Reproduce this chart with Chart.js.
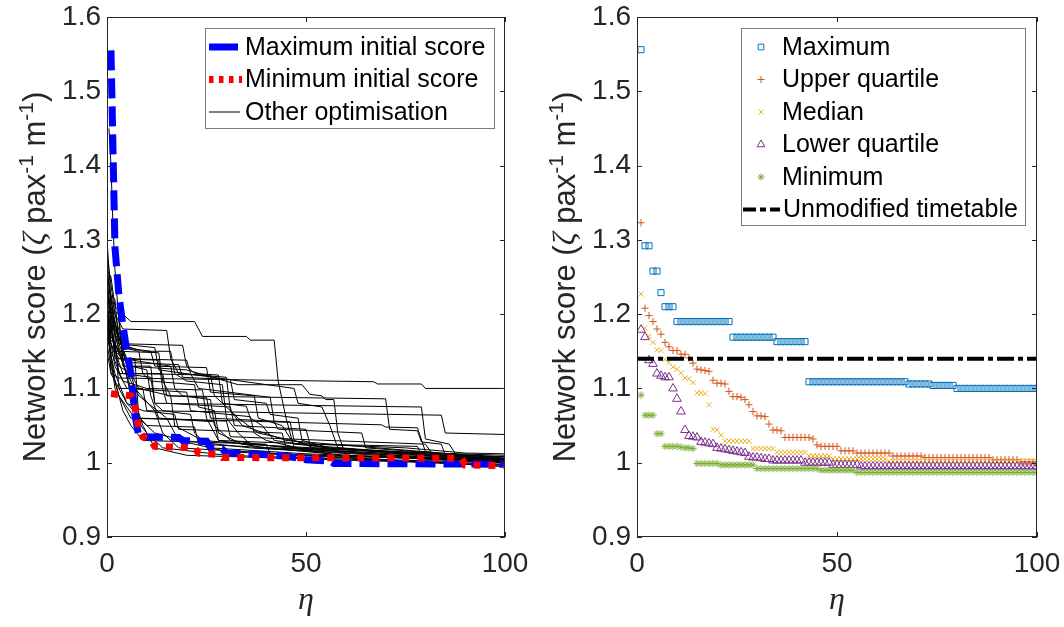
<!DOCTYPE html>
<html>
<head>
<meta charset="utf-8">
<script src="https://cdn.jsdelivr.net/npm/chart.js@4.4.1/dist/chart.umd.min.js"></script>
<style>
  html, body { margin: 0; padding: 0; background: #fff; }
  #wrap { position: relative; width: 1064px; height: 627px; }
  canvas { position: absolute; top: 0; }
  #left { left: 0; }
  #right { left: 532px; }
</style>
</head>
<body>
<div id="wrap">
  <canvas id="left" width="532" height="627"></canvas>
  <canvas id="right" width="532" height="627"></canvas>
</div>
<script>
// axis ticks (both panels)
var yTicks = [0.9, 1, 1.1, 1.2, 1.3, 1.4, 1.5, 1.6];
var xTicks = [0, 50, 100];
// y label pieces: text, kind (n = normal, i = italic greek, s = superscript)
var yTitleParts = [['Network score (', 'n'], ['ζ', 'i'], [' pax', 'n'], ['-1', 's'], [' m', 'n'], ['-1', 's'], [')', 'n']];

// left panel: network score vs eta, [eta, score] break points of each run
var maxInitial = [[1,1.555],[2,1.29],[3,1.225],[4,1.185],[5,1.15],[6,1.12],[7,1.065],[8,1.035],[18,1.034],[19,1.03],[25,1.029],[26,1.02],[29,1.018],[30,1.013],[40,1.011],[46,1.008],[50,1.004],[56,1.002],[57,0.999],[100,0.998]];
var minInitial = [[1,1.093],[6,1.09],[7,1.075],[8,1.045],[9,1.035],[11,1.03],[12,1.022],[22,1.02],[23,1.013],[28,1.011],[29,1.007],[89,1.006],[90,0.997],[100,0.996]];
var otherRuns = [
  [[0,1.26],[1,1.25],[2,1.21],[6,1.19],[22,1.19],[24,1.17],[35,1.17],[36,1.165],[42,1.165],[43,1.11],[45,1.06],[47,1.02],[60,1.008],[100,1.005]],
  [[0,1.22],[1,1.12],[3,1.114],[67,1.109],[68,1.106],[79,1.106],[80,1.1],[100,1.1]],
  [[0,1.2],[1,1.2],[2,1.15],[4,1.15],[5,1.13],[20,1.125],[33,1.105],[49,1.105],[51,1.092],[54,1.09],[55,1.085],[57,1.085],[58,1.04],[60,1.01],[100,1.0]],
  [[0,1.18],[2,1.17],[3,1.1],[9,1.1],[10,1.07],[84,1.064],[85,1.04],[100,1.038]],
  [[0,1.21],[3,1.2],[4,1.13],[11,1.13],[12,1.08],[79,1.075],[80,1.032],[86,1.025],[88,1.008],[100,1.005]],
  [[0,1.17],[2,1.16],[3,1.12],[14,1.12],[15,1.09],[70,1.086],[71,1.045],[78,1.043],[79,1.028],[84,1.025],[85,1.01],[100,1.003]],
  [[0,1.19],[1,1.19],[2,1.14],[7,1.14],[8,1.06],[69,1.051],[70,1.048],[78,1.047],[80,1.015],[100,1.0]],
  [[0,1.23],[2,1.22],[3,1.16],[12,1.155],[13,1.125],[47,1.1],[48,1.08],[54,1.075],[56,1.05],[58,1.02],[100,1.0]],
  [[0,1.25],[1,1.2],[3,1.15],[6,1.1],[9,1.05],[12,1.02],[20,1.01],[100,0.997]],
  [[0,1.2],[2,1.16],[5,1.12],[8,1.09],[15,1.06],[18,1.03],[30,1.015],[100,0.995]],
  [[0,1.18],[1,1.15],[4,1.11],[10,1.1],[24,1.098],[25,1.06],[28,1.03],[40,1.02],[60,1.01],[100,1.0]],
  [[0,1.23],[2,1.17],[4,1.14],[16,1.13],[17,1.1],[19,1.09],[26,1.085],[27,1.05],[31,1.03],[45,1.02],[100,1.003]],
  [[0,1.16],[1,1.13],[3,1.09],[7,1.06],[10,1.04],[14,1.02],[30,1.01],[100,0.998]],
  [[0,1.21],[2,1.15],[4,1.12],[11,1.115],[12,1.08],[14,1.07],[21,1.065],[22,1.04],[26,1.02],[50,1.012],[100,1.002]],
  [[0,1.24],[1,1.19],[3,1.16],[9,1.15],[16,1.15],[17,1.12],[20,1.11],[29,1.105],[30,1.06],[33,1.04],[37,1.02],[100,1.002]],
  [[0,1.19],[2,1.13],[5,1.1],[20,1.095],[21,1.07],[36,1.062],[37,1.04],[40,1.03],[48,1.02],[80,1.012],[100,1.005]],
  [[0,1.2],[1,1.16],[3,1.13],[6,1.12],[26,1.118],[27,1.09],[29,1.08],[35,1.076],[36,1.06],[39,1.05],[42,1.03],[55,1.02],[100,1.008]],
  [[0,1.17],[2,1.12],[5,1.08],[9,1.07],[17,1.065],[18,1.045],[44,1.04],[45,1.02],[100,1.0]],
  [[0,1.22],[1,1.17],[4,1.14],[20,1.138],[21,1.12],[23,1.1],[41,1.088],[42,1.055],[43,1.045],[64,1.04],[65,1.02],[100,1.006]],
  [[0,1.26],[1,1.22],[3,1.16],[6,1.12],[8,1.1],[16,1.09],[17,1.05],[24,1.03],[60,1.015],[85,1.01],[100,1.008]],
  [[0,1.3],[1,1.22],[2,1.18],[5,1.14],[7,1.1],[12,1.07],[14,1.04],[18,1.02],[100,0.995]],
  [[0,1.15],[1,1.12],[3,1.1],[5,1.08],[10,1.05],[22,1.048],[23,1.025],[60,1.015],[62,1.005],[100,1.0]],
  [[0,1.19],[1,1.17],[3,1.15],[13,1.148],[14,1.11],[16,1.09],[25,1.088],[26,1.06],[46,1.055],[47,1.03],[52,1.02],[100,1.005]],
  [[0,1.23],[2,1.18],[4,1.155],[8,1.15],[9,1.12],[11,1.11],[22,1.105],[23,1.075],[27,1.07],[28,1.04],[34,1.025],[70,1.015],[100,1.01]],
  [[0,1.2],[1,1.14],[2,1.1],[4,1.08],[6,1.06],[30,1.056],[31,1.035],[80,1.025],[82,1.01],[100,1.005]],
  [[0,1.27],[1,1.21],[3,1.17],[5,1.135],[18,1.132],[19,1.115],[31,1.112],[32,1.085],[40,1.08],[41,1.065],[48,1.06],[49,1.03],[56,1.02],[100,1.004]],
  [[0,1.18],[2,1.11],[4,1.07],[6,1.05],[9,1.03],[40,1.025],[41,1.012],[100,1.002]],
  [[0,1.24],[1,1.18],[2,1.15],[6,1.13],[10,1.125],[11,1.09],[13,1.06],[27,1.055],[28,1.03],[75,1.02],[90,1.013],[100,1.012]],
  [[0.5,1.45],[1,1.4],[1.5,1.32],[2,1.26],[3,1.19],[4,1.14],[6,1.09],[8,1.06],[12,1.04],[19,1.03],[36,1.02],[100,1.0]],
  [[0,1.21],[1,1.16],[3,1.14],[13,1.138],[14,1.1],[15,1.08],[31,1.075],[32,1.05],[50,1.045],[51,1.025],[78,1.022],[79,1.01],[100,1.005]],
  [[0,1.25],[2,1.2],[4,1.18],[15,1.178],[16,1.14],[18,1.12],[30,1.115],[31,1.07],[34,1.05],[45,1.03],[100,1.006]],
  [[0,1.22],[3,1.17],[5,1.16],[19,1.158],[20,1.13],[22,1.12],[28,1.118],[29,1.08],[33,1.06],[38,1.04],[55,1.02],[100,1.004]],
  [[0,1.28],[1,1.24],[2,1.2],[4,1.155],[11,1.15],[12,1.13],[25,1.128],[26,1.095],[37,1.09],[38,1.06],[44,1.05],[47,1.025],[100,1.003]]
];

// right panel: statistics over runs at each eta
var eta = [1,2,3,4,5,6,7,8,9,10,11,12,13,14,15,16,17,18,19,20,21,22,23,24,25,26,27,28,29,30,31,32,33,34,35,36,37,38,39,40,41,42,43,44,45,46,47,48,49,50,
  51,52,53,54,55,56,57,58,59,60,61,62,63,64,65,66,67,68,69,70,71,72,73,74,75,76,77,78,79,80,81,82,83,84,85,86,87,88,89,90,91,92,93,94,95,96,97,98,99,100];
var maxScore = [1.556,1.292,1.292,1.258,1.258,1.229,1.21,1.21,1.21,1.19,1.19,1.19,1.19,1.19,1.19,1.19,1.19,1.19,1.19,1.19,1.19,1.19,1.19,1.169,1.169,
  1.169,1.169,1.169,1.169,1.169,1.169,1.169,1.169,1.169,1.163,1.163,1.163,1.163,1.163,1.163,1.163,1.163,1.109,1.109,1.109,1.109,1.109,1.109,1.109,1.109,
  1.109,1.109,1.109,1.109,1.109,1.109,1.109,1.109,1.109,1.109,1.109,1.109,1.109,1.109,1.109,1.109,1.109,1.106,1.106,1.106,1.106,1.106,1.106,1.104,1.104,
  1.104,1.104,1.104,1.104,1.1,1.1,1.1,1.1,1.1,1.1,1.1,1.1,1.1,1.1,1.1,1.1,1.1,1.1,1.1,1.1,1.1,1.1,1.1,1.1,1.1];
var upperQuartile = [1.323,1.208,1.198,1.19,1.18,1.173,1.162,1.156,1.151,1.151,1.146,1.146,1.141,1.134,1.126,1.125,1.124,1.123,1.111,1.107,
  1.107,1.106,1.096,1.089,1.089,1.088,1.085,1.078,1.069,1.063,1.063,1.062,1.052,1.044,1.044,1.043,1.034,1.034,1.034,1.034,
  1.034,1.034,1.034,1.032,1.024,1.022,1.022,1.022,1.022,1.022,1.016,1.016,1.016,1.016,1.013,1.013,1.013,1.013,1.013,1.013,
  1.013,1.013,1.013,1.009,1.009,1.009,1.009,1.009,1.009,1.009,1.009,1.007,1.007,1.007,1.007,1.007,1.007,1.007,1.007,1.007,
  1.007,1.007,1.007,1.007,1.007,1.007,1.007,1.007,1.004,1.004,1.004,1.004,1.004,1.004,1.004,1.001,1.001,1.001,1.001,1.001];
var median = [1.227,1.181,1.17,1.162,1.152,1.151,1.139,1.135,1.129,1.126,1.121,1.114,1.113,1.108,1.094,1.094,1.093,1.078,1.045,1.044,
  1.037,1.029,1.029,1.029,1.029,1.029,1.029,1.029,1.019,1.019,1.019,1.019,1.019,1.019,1.014,1.014,1.014,1.014,1.014,1.014,
  1.014,1.014,1.009,1.009,1.009,1.009,1.009,1.009,1.005,1.005,1.005,1.005,1.005,1.005,1.005,1.005,1.005,1.005,1.005,1.005,
  1.005,1.005,1.002,1.002,1.002,1.002,1.002,1.002,1.002,1.002,1.002,1.002,1.002,1.002,1.002,1.002,1.002,1.002,1.002,1.002,
  1.002,1.002,1.002,1.002,1.002,1.002,1.002,1.002,1.002,1.002,1.002,1.002,1.002,1.002,1.002,1.002,1.002,1.002,1.002,1.002];
var lowerQuartile = [1.179,1.169,1.138,1.133,1.12,1.117,1.115,1.115,1.1,1.086,1.069,1.044,1.036,1.035,1.034,1.028,1.027,1.026,1.025,1.02,
  1.019,1.018,1.017,1.016,1.015,1.014,1.013,1.008,1.007,1.007,1.006,1.005,1.005,1.003,1.003,1.003,1.003,1.003,1.003,1.003,
  1.003,1.0,1.0,1.0,1.0,1.0,1.0,1.0,0.997,0.997,0.997,0.997,0.997,0.997,0.997,0.995,0.995,0.995,0.995,0.995,
  0.995,0.995,0.995,0.995,0.995,0.995,0.995,0.995,0.995,0.995,0.995,0.995,0.995,0.995,0.995,0.995,0.995,0.995,0.995,0.995,
  0.995,0.995,0.995,0.995,0.995,0.995,0.995,0.995,0.995,0.995,0.995,0.995,0.995,0.995,0.995,0.995,0.995,0.995,0.995,0.995];
var minScore = [1.091,1.064,1.064,1.064,1.039,1.039,1.022,1.022,1.022,1.022,1.021,1.02,1.02,1.019,0.999,0.999,0.999,0.999,0.999,0.999,
  0.997,0.997,0.997,0.997,0.997,0.997,0.997,0.997,0.997,0.992,0.992,0.992,0.992,0.992,0.992,0.992,0.992,0.992,0.992,0.992,
  0.992,0.992,0.992,0.992,0.992,0.99,0.99,0.99,0.99,0.99,0.99,0.99,0.99,0.99,0.987,0.987,0.987,0.987,0.987,0.987,
  0.987,0.987,0.987,0.987,0.987,0.987,0.987,0.987,0.987,0.987,0.987,0.987,0.987,0.987,0.987,0.987,0.987,0.987,0.987,0.987,
  0.987,0.987,0.987,0.987,0.987,0.987,0.987,0.987,0.987,0.987,0.987,0.987,0.987,0.987,0.987,0.987,0.987,0.987,0.987,0.987];
var unmodifiedScore = 1.14;

var FAMILY = "'Liberation Sans', Arial, Helvetica, sans-serif";
var SERIF = "'Liberation Serif', 'DejaVu Serif', serif";
var AXIS = '#262626';

function toXY(pairs) {
  return pairs.map(function (p) { return { x: p[0], y: p[1] }; });
}

function scalesFor(yWidth) {
  return {
    x: {
      type: 'linear', min: 0, max: 100,
      afterBuildTicks: function (s) { s.ticks = xTicks.map(function (v) { return { value: v }; }); },
      // fixed height, and no extra room reserved for the end labels
      afterFit: function (s) { s.height = 90; s.paddingLeft = 0; s.paddingRight = 0; },
      grid: { display: false, drawTicks: false },
      border: { display: false },
      ticks: { color: AXIS, font: { family: FAMILY, size: 28 }, padding: 10, maxRotation: 0, autoSkip: false },
      title: { display: true, text: 'η', color: AXIS,
               font: { family: SERIF, style: 'italic', size: 32 },
               padding: { top: 0, bottom: 7 } }
    },
    y: {
      type: 'linear', min: 0.9, max: 1.6,
      afterBuildTicks: function (s) { s.ticks = yTicks.map(function (v) { return { value: v }; }); },
      afterFit: function (s) { s.width = yWidth; s.paddingTop = 0; s.paddingBottom = 0; },
      grid: { display: false, drawTicks: false },
      border: { display: false },
      ticks: { color: AXIS, font: { family: FAMILY, size: 28 }, padding: 6,
               callback: function (v) { return String(Math.round(v * 10) / 10); } },
      title: { display: false }
    }
  };
}

// y label with italic zeta and raised -1, rotated
function drawYTitle(chart) {
  var a = chart.chartArea, c = chart.ctx;
  var fonts = { n: '31px ' + FAMILY, i: 'italic 32px ' + SERIF, s: '21px ' + FAMILY };
  var total = 0;
  yTitleParts.forEach(function (p) { c.font = fonts[p[1]]; total += c.measureText(p[0]).width; });
  c.save();
  c.translate(a.left - 62, (a.top + a.bottom) / 2);
  c.rotate(-Math.PI / 2);
  c.fillStyle = AXIS;
  c.textBaseline = 'alphabetic';
  var x = -total / 2;
  yTitleParts.forEach(function (p) {
    c.font = fonts[p[1]];
    c.fillText(p[0], x, p[1] === 's' ? -12 : 0);
    x += c.measureText(p[0]).width;
  });
  c.restore();
}

// box round the axes with inward ticks, MATLAB style
var framePlugin = {
  id: 'frame',
  afterDatasetsDraw: function (chart) {
    var a = chart.chartArea, c = chart.ctx, sx = chart.scales.x, sy = chart.scales.y;
    c.save();
    c.strokeStyle = AXIS;
    c.lineWidth = 1;
    c.strokeRect(Math.round(a.left) + 0.5, Math.round(a.top) + 0.5, Math.round(a.right - a.left) - 1, Math.round(a.bottom - a.top) - 1);
    c.beginPath();
    xTicks.forEach(function (v) {
      var px = Math.round(sx.getPixelForValue(v)) + 0.5;
      c.moveTo(px, a.bottom); c.lineTo(px, a.bottom - 5);
      c.moveTo(px, a.top); c.lineTo(px, a.top + 5);
    });
    yTicks.forEach(function (v) {
      var py = Math.round(sy.getPixelForValue(v)) + 0.5;
      c.moveTo(a.left, py); c.lineTo(a.left + 5, py);
      c.moveTo(a.right, py); c.lineTo(a.right - 5, py);
    });
    c.stroke();
    c.restore();
    drawYTitle(chart);
  }
};

// legend drawn inside the axes, box at (bx,by) size bw x bh
function legendPlugin(id, bx, by, bw, bh, rowY, rowStep, items) {
  return {
    id: id,
    afterDraw: function (chart) {
      var c = chart.ctx;
      c.save();
      c.fillStyle = '#fff';
      c.fillRect(bx, by, bw, bh);
      c.strokeStyle = '#7a7a7a';
      c.lineWidth = 1;
      c.strokeRect(bx + 0.5, by + 0.5, bw, bh);
      c.font = '25px ' + FAMILY;
      c.textBaseline = 'middle';
      items.forEach(function (it, i) {
        var y = rowY + i * rowStep;
        c.save();
        if (it.marker) {
          c.strokeStyle = it.color;
          c.fillStyle = 'rgba(0,0,0,0)';
          Chart.helpers.drawPoint(c, { pointStyle: it.marker, radius: it.radius, borderWidth: 1, rotation: 0 }, it.x0, y);
        } else {
          c.strokeStyle = it.color;
          c.lineWidth = it.width;
          c.lineCap = 'butt';
          c.setLineDash(it.dash || []);
          c.beginPath();
          c.moveTo(it.x0, y);
          c.lineTo(it.x1, y);
          c.stroke();
        }
        c.restore();
        c.fillStyle = '#000';
        c.fillText(it.label, it.tx, y + 1);
      });
      c.restore();
    }
  };
}

var common = {
  responsive: false,
  animation: false,
  devicePixelRatio: 1,
  events: [],
  elements: { line: { tension: 0, fill: false }, point: { radius: 0 } },
  plugins: { legend: { display: false }, tooltip: { enabled: false } }
};

// ---- left panel
var leftSets = [
  { label: 'Minimum initial score', data: toXY(minInitial), borderColor: '#ff0000', borderWidth: 7,
    borderDash: [7, 8], borderCapStyle: 'butt', pointRadius: 0 },
  { label: 'Maximum initial score', data: toXY(maxInitial), borderColor: '#0000ff', borderWidth: 7,
    borderDash: [20, 8], borderCapStyle: 'butt', pointRadius: 0 }
];
otherRuns.forEach(function (run) {
  leftSets.push({ label: 'Other optimisation', data: toXY(run), borderColor: '#000', borderWidth: 1, pointRadius: 0 });
});

new Chart(document.getElementById('left'), {
  type: 'line',
  data: { datasets: leftSets },
  options: Object.assign({}, common, {
    layout: { padding: { left: 0, top: 17, right: 27, bottom: 0 } },
    scales: scalesFor(107)
  }),
  plugins: [framePlugin, legendPlugin('leftLegend', 205, 28, 289, 100, 47, 32.5, [
    { label: 'Maximum initial score', color: '#0000ff', width: 7, x0: 209, x1: 238, tx: 245 },
    { label: 'Minimum initial score', color: '#ff0000', width: 7, dash: [4.5, 5.5], x0: 209, x1: 242, tx: 245 },
    { label: 'Other optimisation', color: '#000', width: 1, x0: 209, x1: 240, tx: 245 }
  ])]
});

// ---- right panel
function markerSet(label, values, style, color, radius, order) {
  return {
    label: label,
    data: values.map(function (v, i) { return { x: eta[i], y: v }; }),
    showLine: false, pointStyle: style, pointRadius: radius, pointBorderWidth: 1,
    pointBorderColor: color, pointBackgroundColor: 'rgba(0,0,0,0)', borderColor: color, order: order
  };
}

var rightSets = [
  markerSet('Maximum', maxScore, 'rect', '#0072BD', 4.3, 5),
  markerSet('Upper quartile', upperQuartile, 'cross', '#D95319', 3.6, 4),
  markerSet('Median', median, 'crossRot', '#EDB120', 3.6, 3),
  markerSet('Lower quartile', lowerQuartile, 'triangle', '#7E2F8E', 5, 2),
  markerSet('Minimum', minScore, 'star', '#77AC30', 3.6, 1),
  { label: 'Unmodified timetable', data: [{ x: xTicks[0], y: unmodifiedScore }, { x: xTicks[2], y: unmodifiedScore }],
    borderColor: '#000', borderWidth: 4, borderDash: [17, 4, 5, 4], borderCapStyle: 'butt', pointRadius: 0, order: 0 }
];

new Chart(document.getElementById('right'), {
  type: 'line',
  data: { datasets: rightSets },
  options: Object.assign({}, common, {
    layout: { padding: { left: 0, top: 17, right: 27, bottom: 0 } },
    scales: scalesFor(105)
  }),
  plugins: [framePlugin, legendPlugin('rightLegend', 209, 28, 284, 197, 47, 32.5, [
    { label: 'Maximum', color: '#0072BD', marker: 'rect', radius: 4, x0: 229, tx: 250 },
    { label: 'Upper quartile', color: '#D95319', marker: 'cross', radius: 3.5, x0: 229, tx: 250 },
    { label: 'Median', color: '#EDB120', marker: 'crossRot', radius: 3.5, x0: 229, tx: 250 },
    { label: 'Lower quartile', color: '#7E2F8E', marker: 'triangle', radius: 4.5, x0: 229, tx: 250 },
    { label: 'Minimum', color: '#77AC30', marker: 'star', radius: 3.5, x0: 229, tx: 250 },
    { label: 'Unmodified timetable', color: '#000', width: 4, dash: [13, 4, 6, 4], x0: 211, x1: 248, tx: 251 }
  ])]
});
</script>
</body>
</html>
